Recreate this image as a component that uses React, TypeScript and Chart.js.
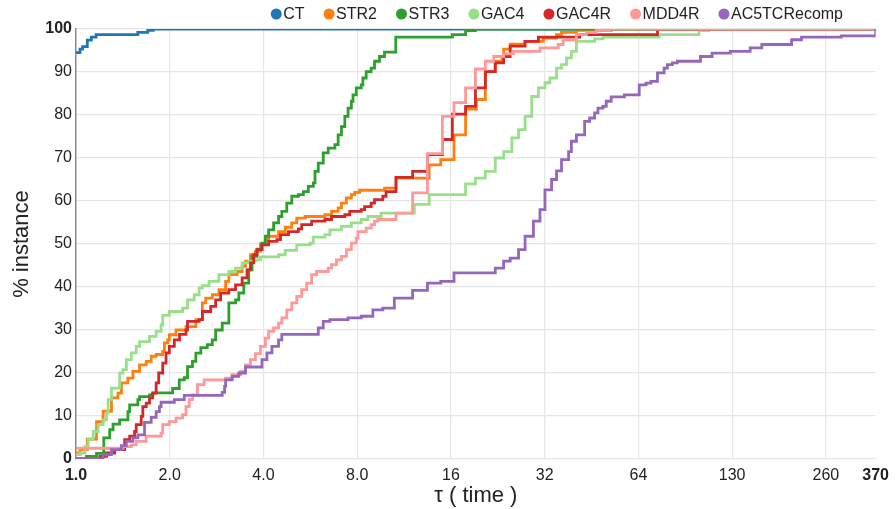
import React, { useEffect, useRef } from 'react';
import { Chart, registerables } from 'chart.js';

Chart.register(...registerables);

const FONT = '"Liberation Sans", Arial, Helvetica, sans-serif';

const SERIES_NAMES = ['CT', 'STR2', 'STR3', 'GAC4', 'GAC4R', 'MDD4R', 'AC5TCRecomp'];
const SERIES_COLORS = ['#1f77b4', '#ff7f0e', '#2ca02c', '#98df8a', '#d62728', '#ff9896', '#9467bd'];

// [tau, % instance] step points
const CT: [number, number][] = [
  [1.0, 94.5], [1.03, 95.3], [1.05, 95.9], [1.087, 97.4], [1.12, 98.1], [1.16, 98.7],
  [1.58, 99.2], [1.7, 99.7], [1.77, 100], [370, 100],
];

const STR2: [number, number][] = [
  [1.0, 1.4], [1.03, 2.2], [1.087, 4.6], [1.164, 8.7], [1.222, 11.1], [1.3, 14.2], [1.364, 15.3],
  [1.399, 17.7], [1.468, 18.8], [1.523, 20.4], [1.6, 21.9], [1.681, 22.7], [1.744, 23.9], [1.809, 24.3],
  [1.899, 25.0], [1.923, 27.0], [1.97, 27.7], [1.994, 28.9], [2.095, 30.0], [2.255, 30.8], [2.426, 32.4],
  [2.546, 36.3], [2.61, 37.4], [2.74, 38.2], [2.878, 39.4], [3.023, 41.3], [3.097, 42.9], [3.293, 43.6],
  [3.416, 44.8], [3.502, 46.0], [3.633, 47.5], [3.769, 48.3], [3.91, 50.0], [4.056, 51.0], [4.155, 51.8],
  [4.472, 52.9], [4.698, 53.9], [4.931, 54.9], [5.116, 56.0], [5.442, 56.4], [6.302, 56.8], [6.617, 57.6],
  [6.949, 58.4], [7.12, 59.5], [7.386, 60.7], [7.663, 61.5], [7.856, 62.0], [8.147, 62.5], [9.788, 63.0],
  [10.66, 65.3], [13.62, 68.4], [14.84, 69.6], [16.37, 75.4], [17.83, 81.4], [19.32, 83.6], [20.64, 90.1],
  [22.21, 92.5], [23.33, 93.6], [23.63, 95.3], [24.8, 96.5], [27.63, 97.1], [31.69, 97.9], [34.94, 98.7],
  [36.25, 99.2], [40.47, 99.7], [52.33, 100], [370, 100],
];

const STR3: [number, number][] = [
  [1.0, 0], [1.081, 0.6], [1.164, 1.3], [1.228, 4.9], [1.283, 6.8], [1.315, 8.1], [1.381, 9.1],
  [1.468, 11.0], [1.487, 12.6], [1.58, 13.8], [1.6, 14.5], [1.722, 14.9], [1.764, 15.4], [2.043, 16.4],
  [2.146, 18.4], [2.227, 18.9], [2.281, 21.5], [2.366, 22.7], [2.426, 24.6], [2.517, 25.9], [2.641, 26.6],
  [2.74, 27.7], [2.809, 30.0], [2.949, 31.6], [3.097, 36.3], [3.254, 37.0], [3.334, 38.6], [3.458, 40.9],
  [3.587, 44.0], [3.676, 47.1], [3.813, 48.8], [3.956, 50.2], [4.056, 51.8], [4.155, 53.3], [4.311, 54.9],
  [4.472, 56.4], [4.582, 57.6], [4.753, 59.5], [4.931, 61.1], [5.18, 61.5], [5.374, 62.2], [5.575, 63.4],
  [5.783, 64.2], [5.856, 66.9], [6.0, 68.8], [6.224, 71.2], [6.457, 72.3], [6.783, 73.1], [6.949, 75.4],
  [7.12, 77.3], [7.3, 79.7], [7.478, 81.6], [7.663, 83.2], [7.755, 84.7], [7.945, 86.3], [8.242, 87.0],
  [8.344, 88.6], [8.55, 90.1], [8.87, 90.9], [9.094, 92.5], [9.434, 93.6], [9.788, 94.6], [10.64, 98.1],
  [16.17, 98.7], [17.83, 99.6], [19.18, 100], [370, 100],
];

const GAC4: [number, number][] = [
  [1.0, 1.0], [1.03, 1.4], [1.068, 2.9], [1.094, 4.5], [1.135, 6.4], [1.178, 8.0], [1.222, 9.1],
  [1.253, 10.7], [1.268, 13.8], [1.3, 16.5], [1.381, 20.0], [1.415, 20.8], [1.451, 23.1], [1.505, 24.7],
  [1.561, 26.2], [1.6, 27.3], [1.722, 28.5], [1.809, 29.7], [1.876, 31.2], [1.899, 33.4], [1.994, 34.3],
  [2.199, 35.1], [2.281, 37.0], [2.396, 38.2], [2.486, 39.8], [2.546, 40.3], [2.675, 41.3], [2.878, 42.9],
  [3.097, 43.6], [3.254, 44.4], [3.416, 45.6], [3.587, 46.0], [3.769, 46.3], [3.91, 47.0], [4.472, 47.5],
  [4.698, 48.5], [5.116, 49.8], [5.645, 50.2], [5.783, 51.6], [6.302, 52.2], [6.538, 53.3], [7.12, 54.1],
  [7.663, 54.9], [8.242, 55.7], [8.66, 56.4], [9.548, 57.2], [12.2, 59.2], [13.62, 61.5], [17.83, 64.0],
  [19.18, 65.3], [20.64, 66.9], [22.21, 70.0], [23.63, 71.5], [25.11, 74.7], [26.38, 76.6], [27.69, 79.7],
  [29.09, 84.3], [30.55, 86.3], [32.07, 87.5], [33.27, 88.6], [34.94, 90.9], [36.25, 91.7], [37.61, 93.3],
  [39.02, 94.8], [40.47, 97.1], [46.3, 97.7], [49.24, 98.1], [74.6, 98.7], [100.1, 99.6], [107.7, 100],
  [370, 100],
];

const GAC4R: [number, number][] = [
  [1.0, 0], [1.193, 0.6], [1.253, 1.4], [1.332, 2.2], [1.433, 4.5], [1.487, 5.3], [1.542, 6.4],
  [1.561, 8.0], [1.62, 9.9], [1.639, 12.2], [1.681, 13.0], [1.722, 14.2], [1.764, 15.3], [1.809, 17.7],
  [1.843, 20.0], [1.899, 22.3], [1.946, 24.7], [1.994, 26.2], [2.069, 27.7], [2.15, 29.0], [2.255, 30.0],
  [2.281, 32.0], [2.486, 32.4], [2.546, 34.3], [2.708, 35.5], [2.809, 37.0], [2.914, 38.6], [3.097, 39.4],
  [3.254, 40.5], [3.416, 42.1], [3.543, 44.0], [3.633, 45.6], [3.722, 47.5], [3.813, 48.7], [3.956, 49.8],
  [4.155, 50.6], [4.417, 51.0], [4.538, 52.2], [4.813, 52.9], [5.18, 53.5], [5.307, 54.5], [5.712, 55.3],
  [6.302, 55.7], [6.617, 56.4], [7.3, 56.8], [7.57, 57.6], [8.242, 58.0], [8.451, 58.7], [8.87, 59.5],
  [9.094, 60.3], [9.667, 61.1], [9.905, 62.2], [10.66, 65.5], [12.05, 66.9], [13.45, 70.8], [15.02, 74.3],
  [16.17, 80.2], [17.83, 82.0], [19.18, 86.3], [20.64, 90.1], [22.21, 92.1], [23.63, 93.6], [24.8, 96.0],
  [27.69, 97.1], [30.55, 98.1], [41.47, 98.7], [73.7, 100], [370, 100],
];

const MDD4R: [number, number][] = [
  [1.0, 2.5], [1.415, 2.9], [1.505, 3.3], [1.561, 4.1], [1.681, 5.3], [1.876, 6.0], [1.899, 8.0],
  [1.994, 8.7], [2.095, 9.5], [2.199, 10.3], [2.255, 12.2], [2.31, 13.8], [2.367, 14.9], [2.455, 17.3],
  [2.579, 18.4], [3.023, 18.8], [3.174, 19.6], [3.376, 20.4], [3.502, 21.9], [3.633, 23.1], [3.769, 24.5],
  [3.91, 26.2], [4.056, 28.1], [4.155, 29.7], [4.311, 30.5], [4.472, 31.6], [4.582, 32.8], [4.753, 34.7],
  [4.931, 36.3], [5.116, 37.8], [5.307, 39.4], [5.505, 40.9], [5.712, 42.9], [5.925, 43.6], [6.457, 44.4],
  [6.617, 45.2], [6.863, 46.3], [7.12, 47.1], [7.386, 48.7], [7.663, 50.2], [7.945, 51.4], [8.045, 52.9],
  [8.55, 53.7], [8.87, 54.5], [9.094, 55.3], [9.319, 55.7], [10.66, 57.2], [12.05, 61.9], [13.45, 71.0],
  [15.02, 79.7], [16.37, 82.9], [17.83, 86.3], [19.18, 90.7], [20.64, 92.5], [21.95, 93.6], [23.63, 94.2],
  [25.42, 94.8], [30.91, 95.6], [35.39, 96.4], [36.71, 97.5], [40.47, 98.7], [43.56, 99.2], [46.88, 99.7],
  [51.69, 100], [370, 100],
];

const AC5TCRecomp: [number, number][] = [
  [1.0, 0], [1.222, 1.0], [1.3, 2.2], [1.399, 3.1], [1.451, 4.1], [1.523, 4.9], [1.58, 5.6], [1.66, 8.5],
  [1.744, 9.7], [1.809, 11.0], [1.853, 12.2], [1.876, 13.2], [2.069, 13.8], [2.227, 14.8], [2.949, 15.5],
  [3.0, 16.9], [3.023, 18.4], [3.174, 19.2], [3.334, 20.0], [3.502, 21.4], [3.956, 23.1], [4.104, 24.7],
  [4.258, 26.2], [4.472, 27.7], [4.582, 29.0], [6.0, 30.5], [6.224, 32.0], [6.538, 32.4], [7.478, 32.8],
  [8.242, 33.2], [8.982, 34.7], [9.667, 35.1], [10.53, 37.4], [12.05, 39.2], [13.45, 40.9], [14.84, 41.3],
  [16.37, 43.3], [22.21, 44.4], [23.63, 46.0], [24.8, 46.7], [26.38, 48.7], [27.69, 51.8], [29.45, 55.3],
  [30.91, 58.0], [32.07, 62.6], [33.68, 65.0], [34.94, 67.0], [36.25, 69.6], [38.2, 71.5], [39.0, 73.9],
  [40.47, 75.4], [43.0, 78.5], [44.63, 79.3], [46.3, 80.5], [47.47, 81.6], [49.24, 82.0], [50.46, 83.2],
  [52.33, 84.2], [57.7, 84.7], [64.4, 87.0], [67.7, 87.4], [70.2, 87.8], [73.7, 89.8], [77.4, 90.9],
  [79.3, 91.7], [82.3, 92.1], [85.4, 92.5], [101.3, 93.6], [110.4, 94.4], [126.3, 94.8], [146.3, 95.6],
  [159.4, 96.4], [198.7, 97.5], [213.8, 98.1], [286.8, 98.4], [370, 100],
];

const SERIES_DATA = [CT, STR2, STR3, GAC4, GAC4R, MDD4R, AC5TCRecomp];

const X_MIN = 1;
const X_MAX = 370;
const X_TICK_VALUES = [1, 2, 4, 8, 16, 32, 64, 128, 256, 370];
const X_TICK_LABELS = ['1.0', '2.0', '4.0', '8.0', '16', '32', '64', '130', '260', '370'];
const Y_MIN = 0;
const Y_MAX = 100;
const Y_STEP = 10;

const X_TITLE = 'τ ( time )';
const Y_TITLE = '% instance';

const legendPlugin = {
  id: 'topRightLegend',
  afterDraw(chart: any) {
    const ctx = chart.ctx;
    ctx.save();
    ctx.font = `16px ${FONT}`;
    ctx.textBaseline = 'middle';
    ctx.textAlign = 'left';
    const r = 5.5;
    const gapText = 1.5;
    const gapItem = 19;
    const cy = 14;
    const right = 843;
    const widths = SERIES_NAMES.map((n) => ctx.measureText(n).width);
    const total =
      widths.reduce((s: number, w: number) => s + 2 * r + gapText + w, 0) + gapItem * (SERIES_NAMES.length - 1);
    let x = right - total;
    SERIES_NAMES.forEach((name, i) => {
      ctx.fillStyle = SERIES_COLORS[i];
      ctx.beginPath();
      ctx.arc(x + r, cy, r, 0, Math.PI * 2);
      ctx.fill();
      ctx.fillStyle = '#222';
      ctx.fillText(name, x + 2 * r + gapText, cy + 1);
      x += 2 * r + gapText + widths[i] + gapItem;
    });
    ctx.restore();
  },
};

export default function App() {
  const canvasRef = useRef<HTMLCanvasElement | null>(null);

  useEffect(() => {
    if (!canvasRef.current) return;
    Chart.defaults.font.family = FONT;
    const lastX = X_TICK_VALUES.length - 1;
    const chart = new Chart(canvasRef.current, {
      type: 'line',
      data: {
        datasets: SERIES_NAMES.map((name, i) => ({
          label: name,
          data: SERIES_DATA[i].map(([x, y]) => ({ x, y })),
          borderColor: SERIES_COLORS[i],
          backgroundColor: SERIES_COLORS[i],
          borderWidth: 2.8,
          pointRadius: 0,
          pointHoverRadius: 0,
          stepped: 'before' as const,
          fill: false,
          order: SERIES_NAMES.length - i,
        })),
      },
      options: {
        animation: false,
        responsive: true,
        maintainAspectRatio: false,
        layout: { padding: { left: 0, right: 15, top: 29, bottom: 0 } },
        plugins: {
          legend: { display: false },
          tooltip: { enabled: false },
        },
        scales: {
          x: {
            type: 'logarithmic',
            min: X_MIN,
            max: X_MAX,
            afterBuildTicks: (scale: any) => {
              scale.ticks = X_TICK_VALUES.map((v) => ({ value: v }));
            },
            afterFit: (scale: any) => {
              scale.height = 50;
            },
            ticks: {
              autoSkip: false,
              maxRotation: 0,
              padding: 7,
              color: '#222',
              callback: (_v: any, i: number) => X_TICK_LABELS[i],
              font: (c: any) => ({
                size: 16,
                weight: c.index === 0 || c.index === lastX ? 'bold' : 'normal',
              }),
            },
            grid: {
              drawTicks: false,
              color: (c: any) => (c.index === 0 || c.index === lastX ? 'rgba(0,0,0,0)' : '#e6e6e6'),
              lineWidth: 1.2,
            },
            border: { display: false },
            title: {
              display: true,
              text: X_TITLE,
              color: '#222',
              font: { size: 22 },
              padding: { top: 0, bottom: 0 },
            },
          },
          y: {
            type: 'linear',
            min: Y_MIN,
            max: Y_MAX,
            afterFit: (scale: any) => {
              scale.width = 76;
            },
            ticks: {
              stepSize: Y_STEP,
              padding: 4,
              color: '#222',
              font: (c: any) => ({
                size: 16,
                weight: c.tick && (c.tick.value === Y_MIN || c.tick.value === Y_MAX) ? 'bold' : 'normal',
              }),
            },
            grid: { drawTicks: false, color: '#e6e6e6', lineWidth: 1.2 },
            border: { display: true, color: '#888', width: 1.5 },
            title: {
              display: true,
              text: Y_TITLE,
              color: '#222',
              font: { size: 22 },
              padding: { top: 9, bottom: 0 },
            },
          },
        },
      },
      plugins: [legendPlugin],
    } as any);
    return () => chart.destroy();
  }, []);

  return (
    <div style={{ position: 'fixed', left: 0, top: 0, width: 896, height: 509, background: '#fff' }}>
      <canvas ref={canvasRef} />
    </div>
  );
}
